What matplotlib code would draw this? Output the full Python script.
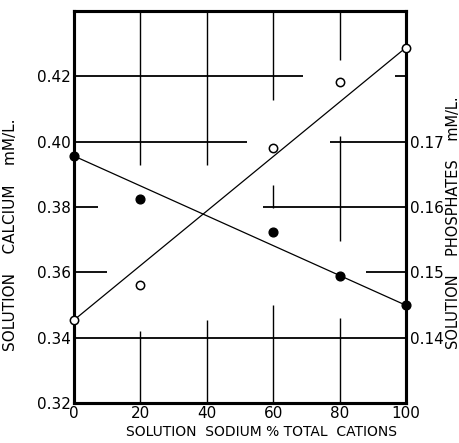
import numpy as np
import matplotlib
matplotlib.use("Agg")
import matplotlib.pyplot as plt

# sodium as % of total cations
sodium_pct = [0, 20, 60, 80, 100]
# solution calcium, mM/L (filled circles, left scale)
calcium = [0.3956, 0.3823, 0.3724, 0.3588, 0.3499]
# solution phosphates, mM/L (open circles, right scale)
phosphate = [0.1427, 0.1480, 0.1691, 0.1792, 0.1844]

x_ticks = [0, 20, 40, 60, 80, 100]
ca_ticks = [0.32, 0.34, 0.36, 0.38, 0.40, 0.42]
p_ticks = [0.14, 0.15, 0.16, 0.17]

# hand-drawn grid, broken where the data runs through (style only)
h_grid = [(0.42, 0, 69), (0.42, 96.7, 100), (0.40, 0, 52), (0.40, 77, 100),
          (0.38, 0, 7.3), (0.38, 57, 100), (0.36, 0, 10), (0.36, 88, 100),
          (0.34, 0, 100)]
v_grid = [(20, 0.393, 0.44), (20, 0.32, 0.342), (40, 0.393, 0.44), (40, 0.32, 0.3455),
          (60, 0.4129, 0.44), (60, 0.3798, 0.3868), (60, 0.32, 0.350),
          (80, 0.425, 0.44), (80, 0.3697, 0.4018), (80, 0.32, 0.346)]

fig = plt.figure(figsize=(4.6, 4.43), dpi=100)
fig.patch.set_facecolor('white')
ax = fig.add_axes([0.1609, 0.0903, 0.7217, 0.8849])
ax.set_xlim(0, 100)
ax.set_ylim(0.32, 0.44)

for y, x0, x1 in h_grid:
    ax.plot([x0, x1], [y, y], color='black', lw=1.3, solid_capstyle='butt', zorder=1)
for x, y0, y1 in v_grid:
    ax.plot([x, x], [y0, y1], color='black', lw=1.0, solid_capstyle='butt', zorder=1)

ax2 = ax.twinx()
ax2.set_ylim(0.13, 0.19)

x = np.array(sodium_pct)
ca = np.array(calcium)
ph = np.array(phosphate)

ax.plot(x[[0, -1]], ca[[0, -1]], color='black', lw=0.9, zorder=3)
ax.plot(x, ca, 'o', color='black', ms=6.3, clip_on=False, zorder=4)
ax2.plot(x[[0, -1]], ph[[0, -1]], color='black', lw=0.9, zorder=3)
ax2.plot(x, ph, 'o', mfc='white', mec='black', mew=1.1, ms=6.0, clip_on=False, zorder=4)

ax.set_xticks(x_ticks)
ax.set_xticklabels([str(v) for v in x_ticks])
ax.set_yticks(ca_ticks)
ax.set_yticklabels(['%.2f' % v for v in ca_ticks])
ax2.set_yticks(p_ticks)
ax2.set_yticklabels(['%.2f' % v for v in p_ticks])

ax.tick_params(length=0, pad=2, labelsize=11)
ax2.tick_params(length=0, pad=3, labelsize=11)

for a in (ax, ax2):
    for s in a.spines.values():
        s.set_linewidth(2.2)

ax.set_xlabel('SOLUTION  SODIUM % TOTAL  CATIONS', fontsize=10)
ax.xaxis.set_label_coords(0.565, -0.055)
ax.set_ylabel('SOLUTION    CALCIUM    mM/L.', fontsize=11)
ax.yaxis.set_label_coords(-0.169, 0.43)
ax2.set_ylabel('SOLUTION    PHOSPHATES    mM/L.', fontsize=10.5)
ax2.yaxis.set_label_coords(1.12, 0.46)

fig.savefig('out.png', dpi=100)
